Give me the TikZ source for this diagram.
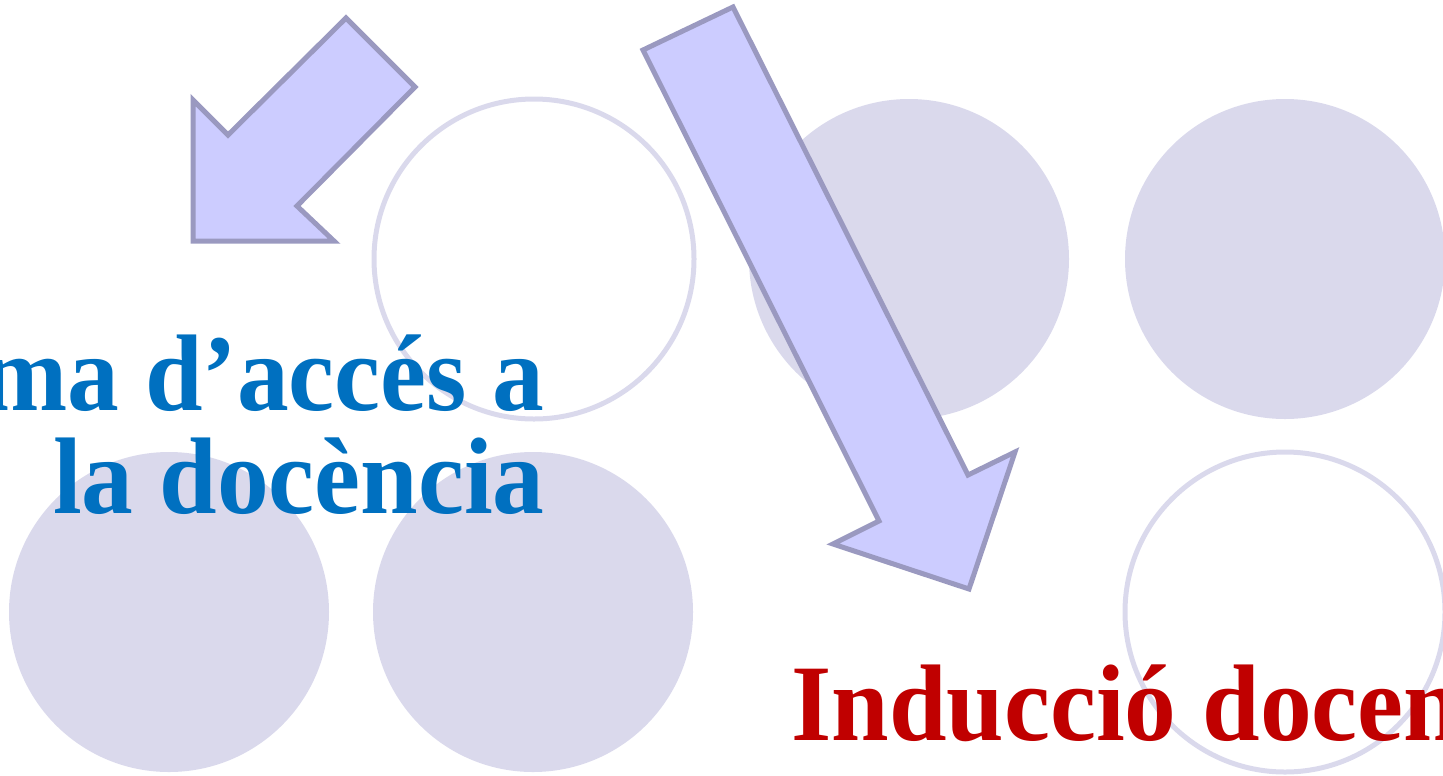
\documentclass[tikz,border=0pt]{standalone}
\usepackage{fontspec}
\setmainfont[FakeStretch=0.95]{Liberation Serif}
\usepackage{tikz}
\usetikzlibrary{positioning}

\definecolor{discfill}{HTML}{DAD9EC}
\definecolor{arrowfill}{HTML}{CCCCFF}
\definecolor{arrowline}{HTML}{9A99C0}
\definecolor{titleblue}{HTML}{0070C0}
\definecolor{titlered}{HTML}{C00000}

\tikzset{
  disc/.style={fill=discfill},
  ring/.style={draw=discfill, line width=0.1cm},
  bigarrow/.style={fill=arrowfill, draw=arrowline, line width=0.1cm, line join=miter},
  title/.style={font=\fontsize{62}{70}\selectfont\bfseries, inner sep=0pt}
}

\begin{document}
\begin{tikzpicture}[x=0.02cm, y=-0.02cm]
      \useasboundingbox (0,0) rectangle (1443,775);
      \clip (0,0) rectangle (1443,775);
      % Define circles
      \draw[ring] (534,259) circle[radius=160];
      \fill[disc] (909,259) circle[radius=160];
      \fill[disc] (1285,259) circle[radius=160];
      \fill[disc] (169,612) circle[radius=160];
      \fill[disc] (533,612) circle[radius=160];
      \draw[ring] (1285,612) circle[radius=160];
      % Define arrows
      \draw[bigarrow] (346,18) -- (415,87) -- (297,206) -- (334,241)
        -- (193,241) -- (193,100) -- (228,135) -- cycle;
      \draw[bigarrow] (643,50) -- (733,7) -- (968,475) -- (1015,452)
        -- (969,589) -- (833,544) -- (879,521) -- cycle;
      % Define texts
      \node[title, text=titleblue, anchor=base east] (accesa) at (545,410) {ma d’accés a};
      \node[title, text=titleblue, anchor=base east] (accesb) at (545,513) {la docència};
      \node[title, text=titlered, anchor=base west] (induccio) at (791,740) {Inducció docen};
    \end{tikzpicture}
\end{document}
